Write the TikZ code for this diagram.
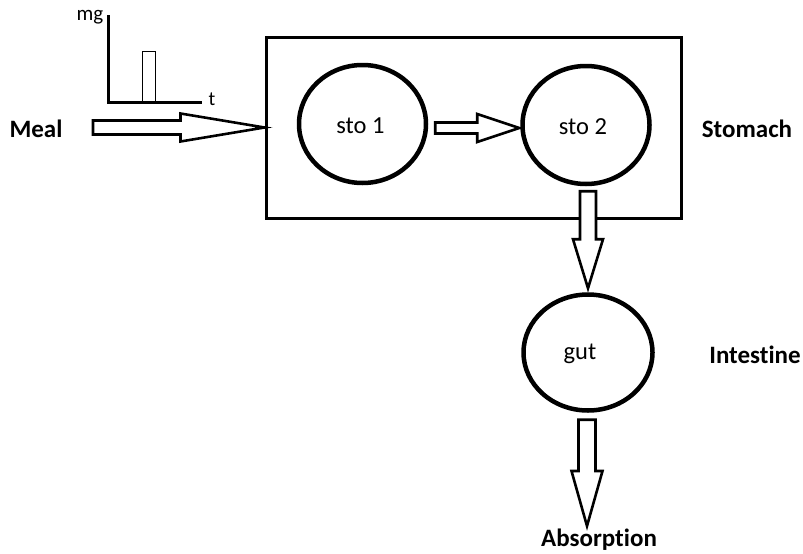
\documentclass[tikz,border=0pt]{standalone}
\usepackage{fontspec}
\setmainfont[Ligatures=NoCommon]{Carlito}
\usetikzlibrary{calc,shapes.geometric}

\tikzset{
  compartment/.style={draw, ellipse, line width=4.5pt, minimum width=127pt, minimum height=118pt, inner sep=0pt},
  cname/.style={font=\fontsize{24.5}{26}\selectfont, inner sep=0pt},
  region/.style={font=\bfseries\fontsize{25}{28}\selectfont},
  blockarr/.style={draw, line width=2.6pt, line join=miter, fill=white},
  axisline/.style={line width=3pt, line cap=butt},
}

% horizontal block arrow: #1 tail, #2 tip, #3 shaft half width, #4 head half width, #5 head length
\newcommand\hblockarrow[5]{%
  \path[blockarr] let \p1=(#1), \p2=(#2) in
    (\x1,\y2+#3) -- (\x2-#5,\y2+#3) -- (\x2-#5,\y2+#4) -- (\x2,\y2)
    -- (\x2-#5,\y2-#4) -- (\x2-#5,\y2-#3) -- (\x1,\y2-#3) -- cycle;}
% vertical block arrow pointing down, same arguments
\newcommand\vblockarrow[5]{%
  \path[blockarr] let \p1=(#1), \p2=(#2) in
    (\x2-#3,\y1) -- (\x2-#3,\y2+#5) -- (\x2-#4,\y2+#5) -- (\x2,\y2)
    -- (\x2+#4,\y2+#5) -- (\x2+#3,\y2+#5) -- (\x2+#3,\y1) -- cycle;}

\begin{document}
\begin{tikzpicture}[x=1pt,y=-1pt]
  \useasboundingbox (0,0) rectangle (803,554);

  % meal input profile
  \draw[axisline] (108,15) -- (108,102.5) -- (202,102.5);
  \draw[line width=1pt] (142,102) -- (142,51) -- (155,51) -- (155,102);
  \node (mg) at (90,17) {\fontsize{21}{22}\selectfont mg};
  \node (t) at (212,99) {\fontsize{20}{22}\selectfont t};

  % stomach box and compartments
  \node[draw, line width=3pt, minimum width=415pt, minimum height=181pt, inner sep=0pt] (stomach) at (473.5,127.5) {};
  \node[compartment, label={[cname, xshift=-2pt, yshift=-2pt]center:sto 1}] (sto1) at (362.5,124) {};
  \node[compartment, label={[cname, xshift=-3pt, yshift=-2pt]center:sto 2}] (sto2) at (586,125) {};
  \node[compartment, minimum width=129pt, minimum height=116pt,
        label={[cname, xshift=-8pt, yshift=-1pt]center:gut}] (gut) at (588,352.5) {};

  % labels
  \node[region] (meal) at (36,129) {Meal};
  \node[region] (stomachlbl) at (747,129) {Stomach};
  \node[region] (intestine) at (755,355) {Intestine};
  \node[region] (absorption) at (599,540) {Absorption};

  % flow arrows
  \coordinate (mealtail) at (93,129);
  \hblockarrow{mealtail}{stomach.west}{7}{14}{84}
  \coordinate (s1tail) at ($(sto1.east)+(7,0)$);
  \coordinate (s2tip) at ($(sto2.west)+(-1,3)$);
  \hblockarrow{s1tail}{s2tip}{5.5}{14}{42}
  \coordinate (s2tail) at ($(sto2.south)+(3,5)$);
  \coordinate (guttip) at ($(gut.north)+(0,-4)$);
  \vblockarrow{s2tail}{guttip}{8}{15}{49}
  \coordinate (guttail) at ($(gut.south)+(0,7)$);
  \coordinate (abstip) at (587,526);
  \vblockarrow{guttail}{abstip}{8.5}{15.5}{55}
\end{tikzpicture}
\end{document}
